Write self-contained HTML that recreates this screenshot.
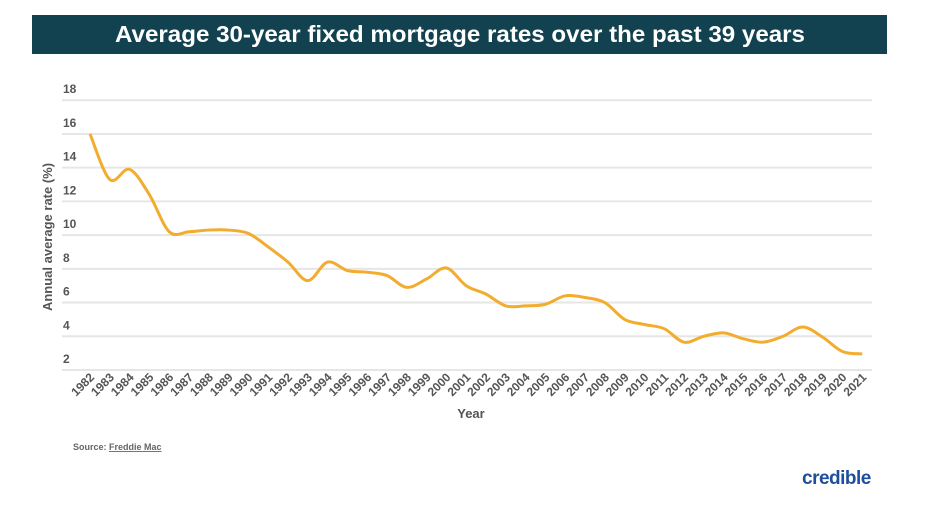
<!DOCTYPE html>
<html><head><meta charset="utf-8"><style>
body{margin:0;background:#fff;width:932px;height:524px;overflow:hidden;font-family:"Liberation Sans",sans-serif}
</style></head><body>
<svg width="932" height="524" xmlns="http://www.w3.org/2000/svg" font-family="Liberation Sans, sans-serif">
<rect x="32" y="15" width="855" height="39" fill="#12424f"/>
<text x="460" y="42" text-anchor="middle" fill="#fff" font-size="23" font-weight="bold" textLength="690" lengthAdjust="spacingAndGlyphs">Average 30-year fixed mortgage rates over the past 39 years</text>
<g id="grid" stroke="#e6e6e6" stroke-width="2"></g>
<g id="ylab" fill="#555" font-size="12" font-weight="bold"></g>
<g id="xlab" fill="#555" font-size="12" font-weight="bold"></g>
<path id="line" fill="none" stroke="#f2ac2e" stroke-width="3" stroke-linejoin="round"/>
<text x="471" y="418" text-anchor="middle" fill="#555" font-size="13" font-weight="bold">Year</text>
<text transform="translate(52,237) rotate(-90)" text-anchor="middle" fill="#555" font-size="13" font-weight="bold">Annual average rate (%)</text>
<text x="73" y="450" fill="#666" font-size="9" font-weight="bold">Source: <tspan text-decoration="underline">Freddie Mac</tspan></text>
<text x="802" y="484" fill="#1f4e9c" font-size="19" font-weight="bold" letter-spacing="-0.5">credible</text>
</svg>
<script>
var ns="http://www.w3.org/2000/svg";
function Y(v){return 370-(v-2)*16.86}
var g=document.getElementById('grid'),yl=document.getElementById('ylab'),xl=document.getElementById('xlab');
for(var v=2;v<=18;v+=2){var l=document.createElementNS(ns,'line');l.setAttribute('x1',62);l.setAttribute('x2',872);l.setAttribute('y1',Y(v));l.setAttribute('y2',Y(v));g.appendChild(l);
var t=document.createElementNS(ns,'text');t.setAttribute('x',63);t.setAttribute('y',Y(v)-7);t.textContent=v;yl.appendChild(t);}
var d=[16.0,13.3,13.9,12.4,10.2,10.2,10.3,10.3,10.1,9.3,8.4,7.3,8.4,7.9,7.8,7.6,6.9,7.4,8.05,7.0,6.5,5.8,5.8,5.9,6.4,6.3,6.0,5.0,4.7,4.45,3.65,4.0,4.2,3.85,3.65,4.0,4.55,3.95,3.1,2.95];
function X(i){return 90+i*19.8}
var p=d.map(function(v,i){return [X(i),Y(v)]});
var s="M"+p[0][0]+","+p[0][1];
for(var i=0;i<p.length-1;i++){var a=p[Math.max(i-1,0)],b=p[i],c=p[i+1],e=p[Math.min(i+2,p.length-1)];
s+=" C"+(b[0]+(c[0]-a[0])/6)+","+(b[1]+(c[1]-a[1])/6)+" "+(c[0]-(e[0]-b[0])/6)+","+(c[1]-(e[1]-b[1])/6)+" "+c[0]+","+c[1];}
document.getElementById('line').setAttribute('d',s);
for(var i=0;i<40;i++){var t=document.createElementNS(ns,'text');t.setAttribute('text-anchor','end');
t.setAttribute('transform','translate('+(X(i)+5)+',378) rotate(-45)');t.textContent=1982+i;xl.appendChild(t);}
</script>
</body></html>
